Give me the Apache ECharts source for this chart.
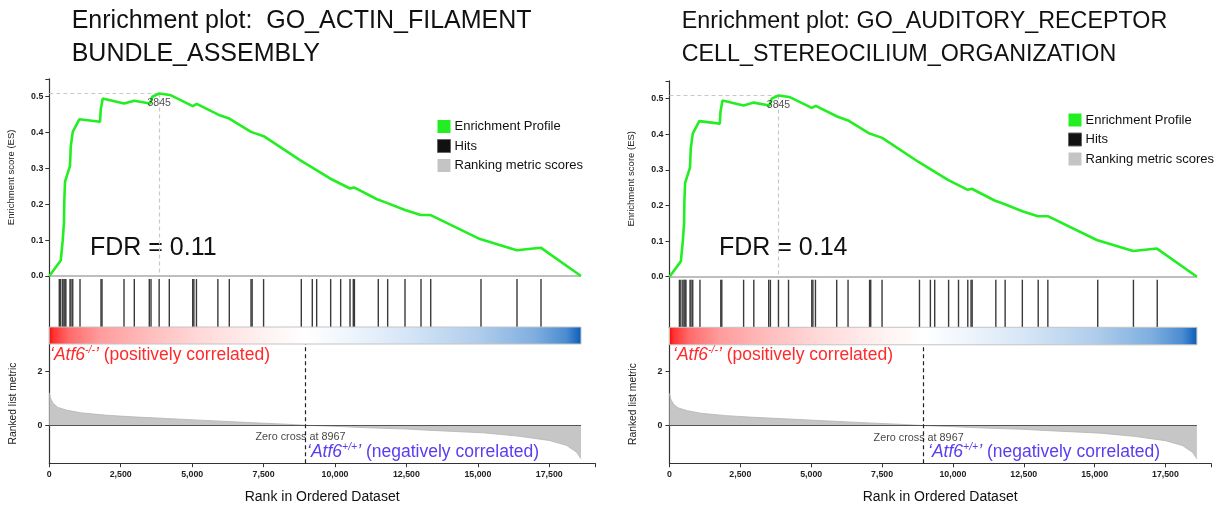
<!DOCTYPE html>
<html><head><meta charset="utf-8">
<script src="https://cdn.jsdelivr.net/npm/echarts@6/dist/echarts.min.js"></script>
<style>html,body{margin:0;padding:0;background:#fff}#c{width:1228px;height:510px}</style>
</head><body><div id="c"></div>
<script>
// ---------------- data ----------------
const titles = [
  ['Enrichment plot:  GO_ACTIN_FILAMENT', 'BUNDLE_ASSEMBLY'],
  ['Enrichment plot: GO_AUDITORY_RECEPTOR', 'CELL_STEREOCILIUM_ORGANIZATION']
];
const fdrLabels = ['FDR = 0.11', 'FDR = 0.14'];
const legendNames = ['Enrichment Profile', 'Hits', 'Ranking metric scores'];

// running enrichment score (vertices of the profile)
const esRanks  = [0, 400, 470, 515, 525, 550, 725, 750, 820, 1050, 1775, 1800, 1870, 2615, 2975, 3525, 3607, 3845, 4225, 5020, 5160, 5915, 6300, 7060, 7105, 7505, 8775, 9825, 10525, 10665, 11470, 11815, 12450, 13000, 13350, 15075, 16360, 17200, 18610];
const esValues = [0, 0.043, 0.1, 0.151, 0.209, 0.263, 0.307, 0.36, 0.402, 0.437, 0.43, 0.464, 0.495, 0.481, 0.489, 0.481, 0.5, 0.509, 0.505, 0.474, 0.48, 0.45, 0.439, 0.402, 0.407, 0.39, 0.323, 0.272, 0.244, 0.247, 0.214, 0.204, 0.184, 0.17, 0.17, 0.103, 0.072, 0.079, 0];

// gene-set hits (ranks)
const hitRanks = [350, 400, 470, 515, 550, 580, 725, 760, 820, 1075, 1810, 1845, 2615, 2975, 3500, 3560, 3845, 4200, 5020, 5060, 5150, 5900, 6300, 7060, 7100, 7500, 8820, 9205, 9358, 9848, 10198, 10525, 10640, 10680, 11515, 11843, 12450, 13010, 13350, 15110, 16370, 17210];

// ranked list metric
const metricRanks  = [0, 40, 140, 300, 600, 1100, 2000, 2940, 4100, 5270, 7025, 8100, 8967, 10000, 11100, 12500, 13400, 15200, 16400, 17500, 18100, 18450, 18610];
const metricValues = [1.2, 1.0, 0.8, 0.66, 0.56, 0.46, 0.37, 0.31, 0.25, 0.19, 0.1, 0.05, 0, -0.04, -0.09, -0.14, -0.19, -0.28, -0.4, -0.56, -0.74, -0.99, -1.23];

const peakRank = 3845, peakES = 0.509;
const zeroCross = 8967;
const lastRank = 18610;
const rankMax = 19100;
const rankTicks = [0, 2500, 5000, 7500, 10000, 12500, 15000, 17500];
const esTicks = [0, 0.1, 0.2, 0.3, 0.4, 0.5];
const esMax = 0.55;
const metricTicks = [0, 2];
const metricMin = -1.4, metricMax = 3.0;

// colour bar (rank -> colour)
const colorBarRanks  = [0, 150, 700, 1800, 3500, 5300, 7500, 8967, 10500, 12500, 15000, 17000, 18100, 18610];
const colorBarColors = ['#ff0000', '#ff3030', '#ff6a6a', '#ff9c9c', '#ffbdbd', '#ffd9d9', '#fff1f1', '#ffffff', '#eef5fc', '#d6e6f6', '#b0cdec', '#7eaedf', '#4a8bd0', '#0a5cb8'];

// ---------------- layout ----------------
const FONT = '"Liberation Sans", Arial, Helvetica, sans-serif';
const GEO = [
  {left: 49.3, width: 545.7, esTop: 78.8, esH: 197.2, hitsTop: 276, hitsH: 51, cbTop: 327, cbH: 17, mTop: 344, mH: 119.2,
   legendLeft: 437, legendTop: 120, titleX: 71.7, titleSize: 25, fdrX: 90, redX: 50, blueX: 307},
  {left: 669.5, width: 541.3, esTop: 80.9, esH: 195.8, hitsTop: 276.7, hitsH: 50.6, cbTop: 327.3, cbH: 17.5, mTop: 344.8, mH: 118.5,
   legendLeft: 1068, legendTop: 113.5, titleX: 681.7, titleSize: 23.3, fdrX: 719, redX: 673, blueX: 928}
];

const GREEN = '#22ee22';
const AXIS = '#333';
const TICKFONT = 8.8;
const grid = [], xAxis = [], yAxis = [], series = [], legend = [], graphic = [];

function fmtRank(v) { return v === 0 ? '0' : String(v).replace(/\B(?=(\d{3})+(?!\d))/g, ','); }

const esData = esRanks.map((r, i) => [r, esValues[i]]);
const metricData = metricRanks.map((r, i) => [r, metricValues[i]]);
const stops = colorBarRanks.map((r, i) => ({offset: r / lastRank, color: colorBarColors[i]}));

GEO.forEach((g, p) => {
  const b = p * 4;
  grid.push({left: g.left, width: g.width, top: g.esTop, height: g.esH});
  grid.push({left: g.left, width: g.width, top: g.hitsTop, height: g.hitsH});
  grid.push({left: g.left, width: g.width, top: g.cbTop, height: g.cbH});
  grid.push({left: g.left, width: g.width, top: g.mTop, height: g.mH});
  for (let k = 0; k < 4; k++) {
    const isBottom = k === 3;
    xAxis.push({
      type: 'value', gridIndex: b + k, min: 0, max: rankMax, show: isBottom,
      axisLine: {show: true, onZero: false, lineStyle: {color: AXIS, width: 1.2}},
      axisTick: {show: true, length: 4, lineStyle: {color: AXIS}, customValues: rankTicks.concat([rankMax])},
      axisLabel: {show: true, customValues: rankTicks, formatter: fmtRank, fontSize: TICKFONT, fontWeight: 'bold', color: '#222', margin: 7, fontFamily: FONT},
      splitLine: {show: false},
      name: isBottom ? 'Rank in Ordered Dataset' : '', nameLocation: 'middle', nameGap: 27,
      nameTextStyle: {fontSize: 14, color: '#111', fontFamily: FONT}
    });
  }
  // ES y axis
  yAxis.push({
    type: 'value', gridIndex: b, min: 0, max: esMax,
    axisLine: {show: true, lineStyle: {color: AXIS, width: 1.2}},
    axisTick: {show: true, length: 4, lineStyle: {color: AXIS}, customValues: esTicks.concat([esMax])},
    axisLabel: {customValues: esTicks, formatter: v => v.toFixed(1), fontSize: TICKFONT, fontWeight: 'bold', color: '#222', margin: 6, fontFamily: FONT},
    splitLine: {show: false},
    name: 'Enrichment score (ES)', nameLocation: 'middle', nameGap: 33,
    nameTextStyle: {fontSize: 9.5, color: '#222', fontFamily: FONT}
  });
  // hits & colour bar y axes
  for (let k = 1; k <= 2; k++) {
    yAxis.push({type: 'value', gridIndex: b + k, min: 0, max: 1,
      axisLine: {show: true, lineStyle: {color: AXIS, width: 1.2}},
      axisTick: {show: false}, axisLabel: {show: false}, splitLine: {show: false}});
  }
  // metric y axis
  yAxis.push({
    type: 'value', gridIndex: b + 3, min: metricMin, max: metricMax,
    axisLine: {show: true, onZero: false, lineStyle: {color: AXIS, width: 1.2}},
    axisTick: {show: true, length: 4, lineStyle: {color: AXIS}, customValues: metricTicks},
    axisLabel: {customValues: metricTicks, fontSize: TICKFONT, fontWeight: 'bold', color: '#222', margin: 7, fontFamily: FONT},
    splitLine: {show: false},
    name: 'Ranked list metric', nameLocation: 'middle', nameGap: 31,
    nameTextStyle: {fontSize: 10.3, color: '#222', fontFamily: FONT}
  });

  // enrichment profile
  series.push({
    name: legendNames[0], type: 'line', xAxisIndex: b, yAxisIndex: b, data: esData,
    symbol: 'none', lineStyle: {color: GREEN, width: 2.6}, itemStyle: {color: GREEN}, z: 5,
    markLine: {
      silent: true, symbol: ['none', 'none'], label: {show: false}, animation: false,
      data: [
        [{coord: [0, peakES], lineStyle: {color: '#c8c8c8', width: 1.2, type: [4, 3]}}, {coord: [peakRank, peakES]}],
        [{coord: [peakRank, peakES], lineStyle: {color: '#c8c8c8', width: 1.2, type: [4, 3]}}, {coord: [peakRank, 0]}],
        [{coord: [0, 0], lineStyle: {color: '#a8a8a8', width: 1.5, type: 'solid'}}, {coord: [lastRank, 0]}]
      ]
    }
  });
  // peak label
  series.push({
    name: 'peak' + p, type: 'scatter', xAxisIndex: b, yAxisIndex: b, data: [[peakRank, 0.483]],
    symbolSize: 0, z: 6,
    label: {show: true, position: 'inside', formatter: String(peakRank), fontSize: 10.5, color: '#222', fontFamily: FONT}
  });
  // hits
  series.push({
    name: legendNames[1], type: 'custom', xAxisIndex: b + 1, yAxisIndex: b + 1,
    data: hitRanks.map(r => [r, 0]), itemStyle: {color: '#111'},
    renderItem: (params, api) => {
      const x = api.value(0);
      const p0 = api.coord([x, 0]), p1 = api.coord([x, 0.94]);
      return {type: 'line', shape: {x1: p0[0], y1: p0[1], x2: p1[0], y2: p1[1]}, style: {stroke: '#3a3a3a', lineWidth: 1.4}};
    }
  });
  // colour bar
  series.push({
    name: 'colorbar' + p, type: 'custom', xAxisIndex: b + 2, yAxisIndex: b + 2,
    data: [[0, lastRank]],
    renderItem: (params, api) => {
      const p0 = api.coord([api.value(0), 1]), p1 = api.coord([api.value(1), 0]);
      return {type: 'rect', shape: {x: p0[0], y: p0[1], width: p1[0] - p0[0], height: p1[1] - p0[1]},
        style: {fill: new echarts.graphic.LinearGradient(0, 0, 1, 0, stops), stroke: '#c4c4c4', lineWidth: 1}};
    }
  });
  // ranking metric
  series.push({
    name: legendNames[2], type: 'line', xAxisIndex: b + 3, yAxisIndex: b + 3, data: metricData,
    symbol: 'none', lineStyle: {color: '#b4b4b4', width: 0.8}, areaStyle: {color: '#c6c6c6', opacity: 1, origin: 'auto'},
    itemStyle: {color: '#c4c4c4'},
    markLine: {
      silent: true, symbol: ['none', 'none'], label: {show: false}, animation: false,
      data: [
        [{coord: [0, 0], lineStyle: {color: '#555', width: 1.2, type: 'solid'}}, {coord: [lastRank, 0]}],
        {xAxis: zeroCross, lineStyle: {color: '#222', width: 1.2, type: [4, 3]}}
      ]
    }
  });
  // zero-cross label
  series.push({
    name: 'zc' + p, type: 'scatter', xAxisIndex: b + 3, yAxisIndex: b + 3, data: [[zeroCross, -0.45]],
    symbolSize: 0, z: 6,
    label: {show: true, position: 'inside', offset: [-5, 0], formatter: 'Zero cross at ' + zeroCross, fontSize: 10.8, color: '#111', fontFamily: FONT}
  });

  legend.push({
    orient: 'vertical', left: g.legendLeft, top: g.legendTop, itemWidth: 13, itemHeight: 13, itemGap: 6,
    selectedMode: false, padding: 0,
    textStyle: {fontSize: 13, color: '#111', fontFamily: FONT, padding: [0, 0, 0, -1]},
    data: [
      {name: legendNames[0], icon: 'rect', itemStyle: {color: GREEN}},
      {name: legendNames[1], icon: 'rect', itemStyle: {color: '#111', borderColor: '#666', borderWidth: 1}},
      {name: legendNames[2], icon: 'rect', itemStyle: {color: '#c4c4c4'}}
    ]
  });

  // texts
  const ts = g.titleSize;
  graphic.push({type: 'text', x: g.titleX, y: 30 - 0.35 * ts, style: {text: titles[p][0], font: ts + 'px ' + FONT, fill: '#111', verticalAlign: 'middle'}});
  graphic.push({type: 'text', x: g.titleX, y: 63 - 0.35 * ts, style: {text: titles[p][1], font: ts + 'px ' + FONT, fill: '#111', verticalAlign: 'middle'}});
  graphic.push({type: 'text', x: g.fdrX, y: 248, style: {text: fdrLabels[p], font: '25px ' + FONT, fill: '#111', verticalAlign: 'middle'}});
  const red = '#ff2a2a', blue = '#5a3cf2';
  const LS = 17.5;
  graphic.push({type: 'text', x: g.redX, y: 361.7 - 0.35 * LS, style: {
    text: '{a|‘Atf6}{s|-/-}{a|’} (positively correlated)', font: LS + 'px ' + FONT, fill: red, verticalAlign: 'middle', lineHeight: 22,
    rich: {a: {fontStyle: 'italic', fontSize: LS, fill: red, lineHeight: 22, fontFamily: FONT},
           s: {fontStyle: 'italic', fontSize: 10.5, fill: red, lineHeight: 22, verticalAlign: 'top', fontFamily: FONT}}
  }});
  graphic.push({type: 'text', x: g.blueX, y: 458.3 - 0.35 * LS, style: {
    text: '{a|‘Atf6}{s|+/+}{a|’} (negatively correlated)', font: LS + 'px ' + FONT, fill: blue, verticalAlign: 'middle', lineHeight: 22,
    rich: {a: {fontStyle: 'italic', fontSize: LS, fill: blue, lineHeight: 22, fontFamily: FONT},
           s: {fontStyle: 'italic', fontSize: 10.5, fill: blue, lineHeight: 22, verticalAlign: 'top', fontFamily: FONT}}
  }});
});

const chart = echarts.init(document.getElementById('c'), null, {renderer: 'canvas'});
chart.setOption({
  animation: false, backgroundColor: '#fff',
  textStyle: {fontFamily: FONT},
  grid, xAxis, yAxis, series, legend, graphic
});
</script></body></html>
